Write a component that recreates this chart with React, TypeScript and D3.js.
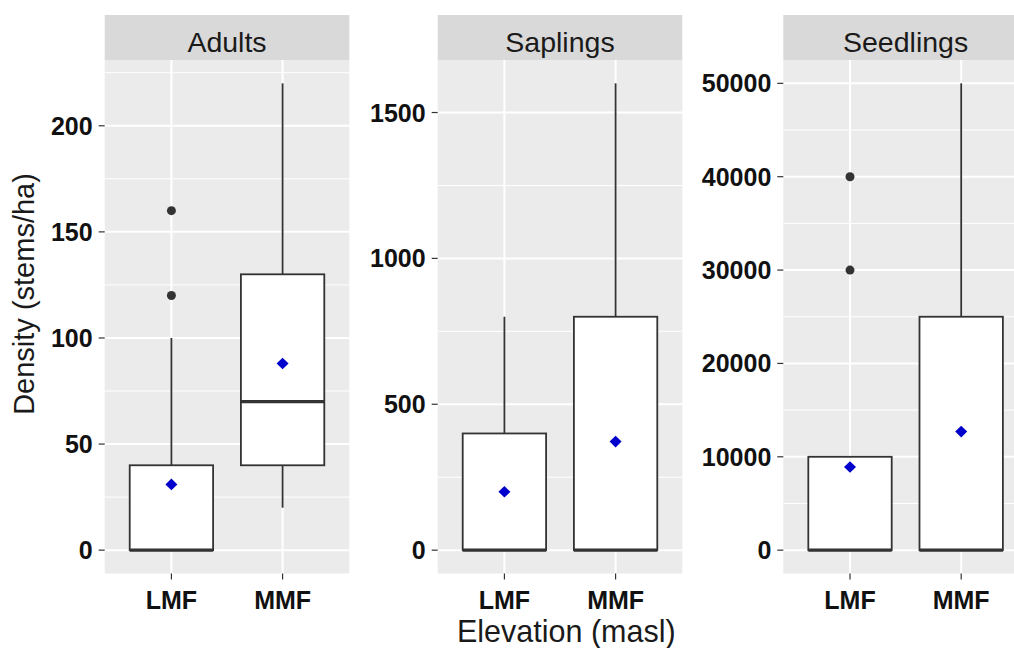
import React from "react";
import * as d3 from "d3";

// ---- data ----
const panels = ["Adults", "Saplings", "Seedlings"];
const categories = ["LMF", "MMF"];

// [lowerWhisker, q1, median, q3, upperWhisker] per category
const adultsBox = [
  [0, 0, 0, 40, 100],
  [20, 40, 70, 130, 220],
];
const saplingsBox = [
  [0, 0, 0, 400, 800],
  [0, 0, 0, 800, 1600],
];
const seedlingsBox = [
  [0, 0, 0, 10000, 10000],
  [0, 0, 0, 25000, 50000],
];
const adultsMean = [31, 88];
const saplingsMean = [200, 372];
const seedlingsMean = [8900, 12700];
const adultsOutliers = [[120, 160], []];
const saplingsOutliers = [[], []];
const seedlingsOutliers = [[30000, 40000], []];

const adultsTicks = [0, 50, 100, 150, 200];
const saplingsTicks = [0, 500, 1000, 1500];
const seedlingsTicks = [0, 10000, 20000, 30000, 40000, 50000];

const yTitle = "Density (stems/ha)";
const xTitle = "Elevation (masl)";

const panelData = [
  { box: adultsBox, mean: adultsMean, out: adultsOutliers, ticks: adultsTicks },
  { box: saplingsBox, mean: saplingsMean, out: saplingsOutliers, ticks: saplingsTicks },
  { box: seedlingsBox, mean: seedlingsMean, out: seedlingsOutliers, ticks: seedlingsTicks },
];

// ---- layout ----
const W = 1014;
const H = 648;
const panelLefts = [104.7, 437.7, 783.3];
const panelW = 244.6;
const stripTop = 15;
const panelTop = 60;
const panelBottom = 573.5;
const FONT = "'Liberation Sans', Arial, Helvetica, sans-serif";

function Panel({ idx }: { idx: number }) {
  const pd = panelData[idx];
  const left = panelLefts[idx];
  const allVals = pd.box.flat().concat(pd.out.flat());
  const lo = d3.min(allVals) as number;
  const hi = d3.max(allVals) as number;
  const pad = (hi - lo) * 0.05;
  const y = d3.scaleLinear().domain([lo - pad, hi + pad]).range([panelBottom, panelTop]);
  const x = d3.scaleLinear().domain([0.4, 2.6]).range([left, left + panelW]);
  const unit = x(2) - x(1);
  const bw = unit * 0.75;
  const step = pd.ticks[1] - pd.ticks[0];
  const minor: number[] = [];
  for (let v = pd.ticks[0] - step / 2; v <= hi + pad; v += step) {
    if (v >= lo - pad) minor.push(v);
  }
  const [d0, d1] = y.domain();
  return (
    <g>
      {/* strip */}
      <rect x={left} y={stripTop} width={panelW} height={panelTop - stripTop} fill="#D9D9D9" />
      <text
        x={left + panelW / 2}
        y={51.5}
        textAnchor="middle"
        fontSize={28.5}
        fill="#1A1A1A"
        fontFamily={FONT}
      >
        {panels[idx]}
      </text>
      {/* panel background */}
      <rect x={left} y={panelTop} width={panelW} height={panelBottom - panelTop} fill="#EBEBEB" />
      {minor
        .filter((v) => v >= d0 && v <= d1)
        .map((v, i) => (
          <line key={"mn" + i} x1={left} x2={left + panelW} y1={y(v)} y2={y(v)} stroke="#fff" strokeWidth={1} />
        ))}
      {pd.ticks.map((v, i) => (
        <line key={"mj" + i} x1={left} x2={left + panelW} y1={y(v)} y2={y(v)} stroke="#fff" strokeWidth={2} />
      ))}
      {categories.map((c, i) => (
        <line key={"vx" + i} x1={x(i + 1)} x2={x(i + 1)} y1={panelTop} y2={panelBottom} stroke="#fff" strokeWidth={2} />
      ))}
      {/* y axis ticks + labels */}
      {pd.ticks.map((v, i) => (
        <g key={"yt" + i}>
          <line x1={left - 6} x2={left} y1={y(v)} y2={y(v)} stroke="#333" strokeWidth={1.2} />
          <text
            x={left - 12}
            y={y(v)}
            dy="0.36em"
            textAnchor="end"
            fontSize={25}
            fontWeight="bold"
            fill="#111"
            fontFamily={FONT}
          >
            {v}
          </text>
        </g>
      ))}
      {/* x axis ticks + labels */}
      {categories.map((c, i) => (
        <g key={"xt" + i}>
          <line x1={x(i + 1)} x2={x(i + 1)} y1={panelBottom} y2={panelBottom + 6} stroke="#333" strokeWidth={1.2} />
          <text
            x={x(i + 1)}
            y={609}
            textAnchor="middle"
            fontSize={25}
            fontWeight="bold"
            fill="#111"
            fontFamily={FONT}
          >
            {c}
          </text>
        </g>
      ))}
      {/* boxes */}
      {pd.box.map((b, i) => {
        const cx = x(i + 1);
        const [wl, q1, med, q3, wh] = b;
        const my = y(pd.mean[i]);
        return (
          <g key={"bx" + i}>
            {wh > q3 && <line x1={cx} x2={cx} y1={y(q3)} y2={y(wh)} stroke="#333" strokeWidth={1.8} />}
            {wl < q1 && <line x1={cx} x2={cx} y1={y(q1)} y2={y(wl)} stroke="#333" strokeWidth={1.8} />}
            <rect
              x={cx - bw / 2}
              y={y(q3)}
              width={bw}
              height={y(q1) - y(q3)}
              fill="#fff"
              stroke="#333"
              strokeWidth={1.8}
            />
            <line x1={cx - bw / 2} x2={cx + bw / 2} y1={y(med)} y2={y(med)} stroke="#333" strokeWidth={3.2} />
            {pd.out[i].map((o, k) => (
              <circle key={"o" + k} cx={cx} cy={y(o)} r={4.5} fill="#333" />
            ))}
            <path
              d={`M${cx},${my - 5.8} L${cx + 6},${my} L${cx},${my + 5.8} L${cx - 6},${my} Z`}
              fill="#0000CD"
            />
          </g>
        );
      })}
    </g>
  );
}

export default function App() {
  return (
    <svg
      width={W}
      height={H}
      viewBox={`0 0 ${W} ${H}`}
      style={{ position: "absolute", left: 0, top: 0, background: "#fff" }}
    >
      <rect x={0} y={0} width={W} height={H} fill="#fff" />
      {panels.map((p, i) => (
        <Panel key={p} idx={i} />
      ))}
      <text
        transform={`translate(34,294) rotate(-90)`}
        textAnchor="middle"
        fontSize={29}
        fill="#1A1A1A"
        fontFamily={FONT}
      >
        {yTitle}
      </text>
      <text
        x={(panelLefts[0] + panelLefts[2] + panelW) / 2}
        y={642}
        textAnchor="middle"
        fontSize={30.5}
        fill="#1A1A1A"
        fontFamily={FONT}
      >
        {xTitle}
      </text>
    </svg>
  );
}
